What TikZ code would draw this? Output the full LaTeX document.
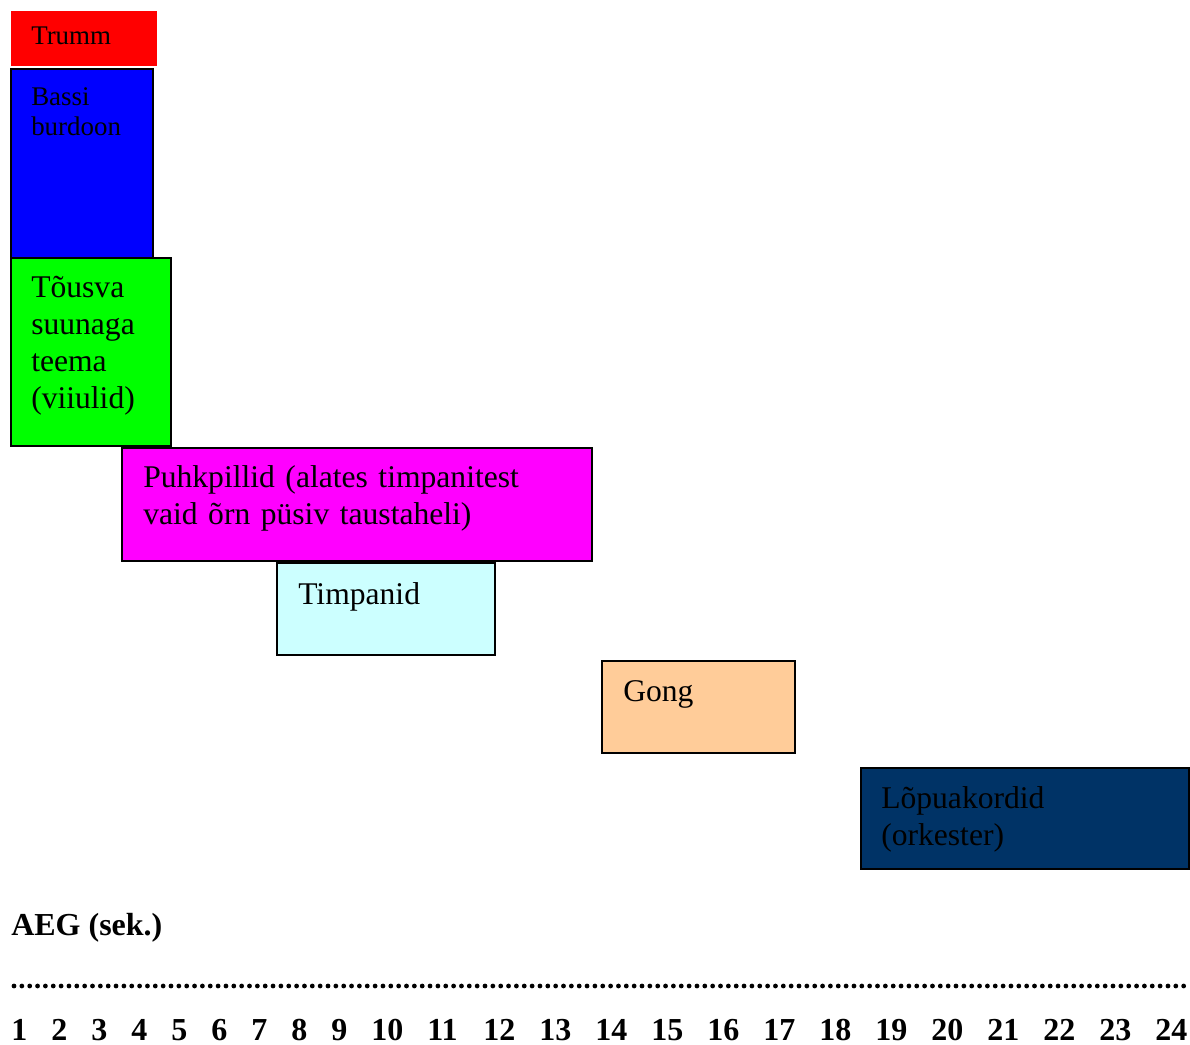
\documentclass[tikz,border=0pt]{standalone}
\usepackage{fontspec}
\setmainfont{Liberation Serif}
\usepackage{tikz}
\usetikzlibrary{calc}
\definecolor{trummcol}{HTML}{FF0000}
\definecolor{bassicol}{HTML}{0000FF}
\definecolor{teemacol}{HTML}{00FF00}
\definecolor{puhkcol}{HTML}{FF00FF}
\definecolor{timpcol}{HTML}{CCFFFF}
\definecolor{gongcol}{HTML}{FFCC99}
\definecolor{lopucol}{HTML}{003366}

\tikzset{
  lane/.style={draw=black,line width=1pt,anchor=north west,inner sep=0pt,outer sep=0pt},
  bigtxt/.style={anchor=base west,align=left,text width=300pt,inner sep=0pt,font=\fontsize{23.7}{27.8}\selectfont},
  smalltxt/.style={anchor=base west,align=left,text width=100pt,inner sep=0pt,font=\fontsize{20.2}{22.5}\selectfont},
  axistxt/.style={anchor=base west,inner sep=0pt,font=\fontsize{24}{28}\selectfont\bfseries}
}

\begin{document}
\begin{tikzpicture}[x=0.75pt,y=-0.75pt]
\useasboundingbox (0,0) rectangle (1190,1045);

% instrument blocks
\node[lane,draw=none,fill=trummcol,minimum width=146*0.75pt,minimum height=55*0.75pt] (trumm) at (11,11) {};
\node[lane,fill=bassicol,minimum width=142*0.75pt,minimum height=189*0.75pt] (bassi) at (11,69) {};
\node[lane,fill=teemacol,minimum width=160*0.75pt,minimum height=188*0.75pt] (teema) at (11,258) {};
\node[lane,fill=puhkcol,minimum width=470*0.75pt,minimum height=113*0.75pt] (puhk) at (122,448) {};
\node[lane,fill=timpcol,minimum width=218*0.75pt,minimum height=92*0.75pt] (timp) at (277,563) {};
\node[lane,fill=gongcol,minimum width=193*0.75pt,minimum height=92*0.75pt] (gong) at (602,661) {};
\node[lane,fill=lopucol,minimum width=328*0.75pt,minimum height=101*0.75pt] (lopu) at (861,768) {};

% labels
\node[smalltxt] (trummtxt) at ($(trumm.north west)+(20,34)$) {Trumm};
\node[smalltxt] (bassitxt) at ($(bassi.north west)+(20,37)$) {Bassi\\burdoon};
\node[bigtxt] (teematxt) at ($(teema.north west)+(20,39)$) {Tõusva\\suunaga\\teema\\(viiulid)};
\node[bigtxt] (puhktxt) at ($(puhk.north west)+(21,39)$) {Puhkpillid (alates timpanitest\\vaid õrn püsiv taustaheli)};
\node[bigtxt] (timptxt) at ($(timp.north west)+(21,41)$) {Timpanid};
\node[bigtxt] (gongtxt) at ($(gong.north west)+(21,40)$) {Gong};
\node[bigtxt] (lopustxt) at ($(lopu.north west)+(20,40)$) {Lõpuakordid\\(orkester)};

% time axis
\node[axistxt] (aeg) at (11,935) {AEG (sek.)};
\foreach \i in {0,...,149}
    \fill (14+\i*7.85,986) circle (2.4);
\foreach \n in {1,...,9}
    \node[axistxt] (t\n) at (11+40*\n-40,1040) {\n};
\foreach \n in {10,...,24}
    \node[axistxt] (t\n) at (371+56*\n-560,1040) {\n};
\end{tikzpicture}
\end{document}
